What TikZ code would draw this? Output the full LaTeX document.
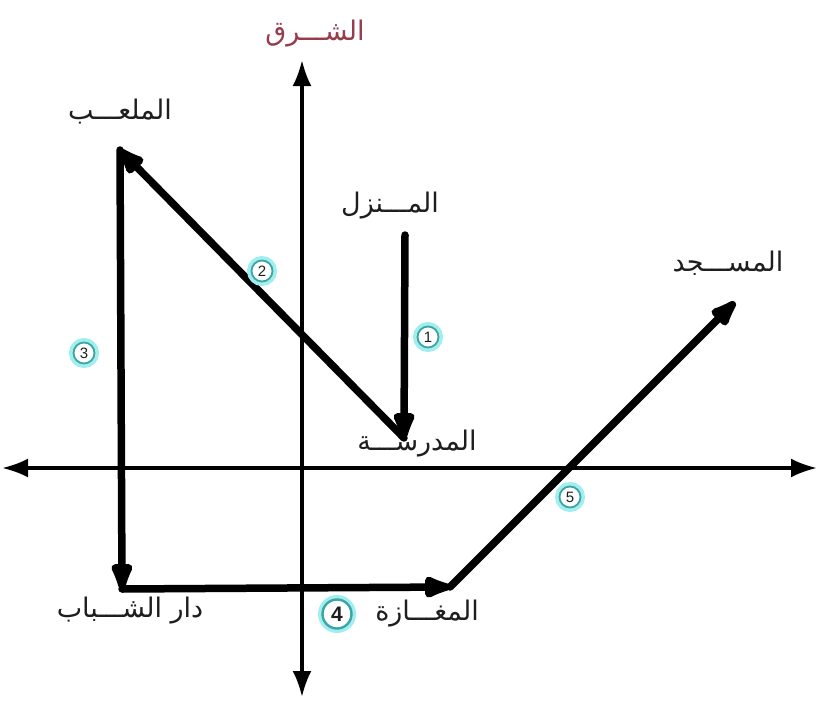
\documentclass[tikz,border=0pt]{standalone}
\usepackage{fontspec}
\setmainfont{Liberation Sans}
\newfontfamily\arabicfont[Script=Arabic]{DejaVu Sans}
\TeXXeTstate=1
\usetikzlibrary{arrows.meta}
\definecolor{eastred}{RGB}{150,60,75}
\definecolor{ringteal}{RGB}{60,165,165}
\definecolor{glowcyan}{RGB}{160,238,238}
\definecolor{labelgray}{RGB}{30,30,30}
\tikzset{
  axisline/.style={line width=3.5pt,{Latex[length=26pt,width=19pt]}-{Latex[length=26pt,width=19pt]}},
  patharrow/.style={line width=7.5pt,line cap=round,line join=round,-{Latex[length=38pt,width=26pt,round]}},
  place/.style={font=\arabicfont\fontsize{27}{31}\selectfont,text=labelgray,inner sep=0pt},
  stepnum/.style={circle,draw=ringteal,line width=1.8pt,fill=white,minimum size=21pt,inner sep=0pt,
     font=\fontsize{15}{17}\selectfont,text=labelgray},
  glow/.style={circle,draw=glowcyan,line width=6pt,minimum size=24pt,inner sep=0pt},
}
\begin{document}
\begin{tikzpicture}[x=1pt,y=-1pt]
\useasboundingbox (0,0) rectangle (819,704);
% axes
\coordinate (north) at (302,60);
\coordinate (south) at (302,697);
\coordinate (west) at (2,468);
\coordinate (east) at (817,468);
\draw[axisline] (south) -- (north);
\draw[axisline] (west) -- (east);
% route points
\coordinate (home) at (405,235);
\coordinate (school) at (404,438);
\coordinate (stadium) at (120,150);
\coordinate (youth) at (122,589);
\coordinate (shop) at (450,587);
\coordinate (mosque) at (735,302);
\draw[patharrow] (home) -- (school);
\draw[patharrow] (school) -- (stadium);
\draw[patharrow] (stadium) -- (youth);
\draw[patharrow] (youth) -- (shop);
\draw[patharrow] (shop) -- (mosque);
% labels
\node[place,text=eastred] (eastlbl) at (315,34) {\beginR الشـــرق\endR};
\node[place] (stadlbl) at (120,112) {\beginR الملعـــب\endR};
\node[place] (homelbl) at (390,206) {\beginR المـــنزل\endR};
\node[place] (schoollbl) at (417,444) {\beginR المدرســـة\endR};
\node[place] (youthlbl) at (130,611) {\beginR دار الشـــباب\endR};
\node[place] (shoplbl) at (427,614) {\beginR المغـــازة\endR};
\node[place] (mosquelbl) at (728,263) {\beginR المســـجد\endR};
% step numbers
\foreach \n/\x/\y in {1/428/337, 2/262/271, 3/84/353, 5/570/497}{
  \node[glow] at (\x,\y) {};
  \node[stepnum] (s\n) at (\x,\y) {\n};
}
\node[glow,minimum size=32pt] at (337,614) {};
\node[stepnum,minimum size=29pt,line width=2.4pt,font=\bfseries\fontsize{21}{23}\selectfont] (s4) at (337,614) {4};
\end{tikzpicture}
\end{document}
